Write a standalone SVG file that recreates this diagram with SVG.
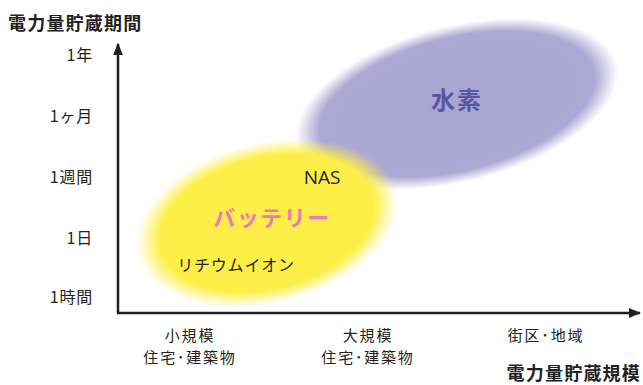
<svg xmlns="http://www.w3.org/2000/svg" width="643" height="385" viewBox="0 0 643 385">
<defs>
<style>
text{font-family:"Noto Sans CJK JP","Noto Sans",sans-serif;fill:#231f20}
.lab{font-size:16px;letter-spacing:0.8px}
.xl{font-size:15px;letter-spacing:1.8px}
.ttl{font-size:18px;font-weight:bold;letter-spacing:1.2px}
.ax{stroke:#231f20;stroke-width:2.5;fill:none}
</style>
<radialGradient id="gp" cx="0.5" cy="0.5" r="0.5">
<stop offset="0" stop-color="#aaa5d1"/>
<stop offset="0.85" stop-color="#aca7d3"/>
<stop offset="1" stop-color="#aca7d3" stop-opacity="0"/>
</radialGradient>
<radialGradient id="gy" cx="0.5" cy="0.5" r="0.5">
<stop offset="0" stop-color="#fdef48"/>
<stop offset="0.82" stop-color="#fdef48"/>
<stop offset="1" stop-color="#fdef48" stop-opacity="0"/>
</radialGradient>
<marker id="ah" viewBox="0 0 10 10" refX="9" refY="5" markerWidth="5" markerHeight="5" orient="auto" markerUnits="strokeWidth"><path d="M0,1 L10,5 L0,9 z" fill="#231f20"/></marker>
</defs>
<g id="hydrogen">
<ellipse cx="457" cy="104" rx="165" ry="78" transform="rotate(-14 457 104)" fill="url(#gp)"/>
<text x="457" y="109" text-anchor="middle" style="font-size:24px;font-weight:bold;letter-spacing:2px;fill:#5a56a2">水素</text>
</g>
<g id="battery">
<ellipse cx="267" cy="223" rx="133" ry="80" transform="rotate(-14 267 223)" fill="url(#gy)"/>
<text x="272" y="226" text-anchor="middle" style="font-size:22px;font-weight:bold;letter-spacing:1.5px;fill:#ef78b6">バッテリー</text>
<text x="236" y="271" text-anchor="middle" class="lab">リチウムイオン</text>
</g>
<g id="nas">
<text x="322" y="184" text-anchor="middle" style="font-size:19px;font-family:'Open Sans','Noto Sans',sans-serif">NAS</text>
</g>
<g id="connectors">
<line class="ax" x1="118" y1="313" x2="118" y2="44" marker-end="url(#ah)"/>
<line class="ax" x1="117" y1="313" x2="640" y2="313" marker-end="url(#ah)"/>
</g>
<g id="yaxis-labels">
<text class="ttl" x="8" y="30">電力量貯蔵期間</text>
<text class="lab" x="93" y="61" text-anchor="end">1年</text>
<text class="lab" x="93" y="122" text-anchor="end">1ヶ月</text>
<text class="lab" x="93" y="183" text-anchor="end">1週間</text>
<text class="lab" x="93" y="244" text-anchor="end">1日</text>
<text class="lab" x="93" y="303" text-anchor="end">1時間</text>
</g>
<g id="xaxis-labels">
<text class="xl" x="190" y="341" text-anchor="middle">小規模</text>
<text class="xl" x="190" y="363" text-anchor="middle">住宅･建築物</text>
<text class="xl" x="368" y="341" text-anchor="middle">大規模</text>
<text class="xl" x="368" y="363" text-anchor="middle">住宅･建築物</text>
<text class="xl" x="546" y="341" text-anchor="middle">街区･地域</text>
<text class="ttl" x="641" y="380" text-anchor="end">電力量貯蔵規模</text>
</g>
</svg>
